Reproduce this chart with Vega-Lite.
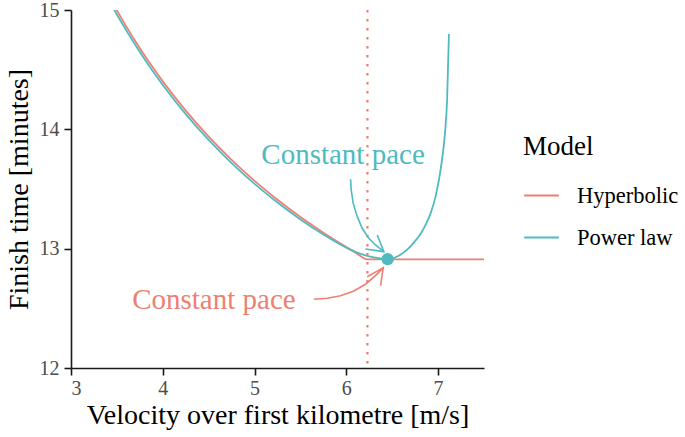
{
  "$schema": "https://vega.github.io/schema/vega-lite/v6.json",
  "width": 413,
  "height": 358,
  "autosize": {"type": "none"},
  "padding": {"left": 71, "top": 10, "right": 201, "bottom": 69},
  "background": "white",
  "config": {
    "font": "Liberation Serif, DejaVu Serif, serif",
    "view": {"stroke": null},
    "axis": {
      "grid": false,
      "domainColor": "#1a1a1a",
      "domainWidth": 1.6,
      "tickColor": "#1a1a1a",
      "tickWidth": 1.6,
      "tickSize": 7,
      "labelColor": "#4d4d4d",
      "labelFont": "Liberation Serif, DejaVu Serif, serif",
      "labelFontSize": 20,
      "titleFont": "Liberation Serif, DejaVu Serif, serif",
      "titleFontSize": 28,
      "titleFontWeight": "normal",
      "titleColor": "#000000"
    },
    "legend": {
      "titleFont": "Liberation Serif, DejaVu Serif, serif",
      "titleFontSize": 27,
      "titleFontWeight": "normal",
      "titleColor": "#000000",
      "labelFont": "Liberation Serif, DejaVu Serif, serif",
      "labelFontSize": 22.5,
      "labelColor": "#000000"
    }
  },
  "datasets": {
    "curves": [
      {"model": "Hyperbolic", "v": 3.4, "t": 15.137},
      {"model": "Hyperbolic", "v": 3.5, "t": 14.997},
      {"model": "Hyperbolic", "v": 3.6, "t": 14.865},
      {"model": "Hyperbolic", "v": 3.75, "t": 14.68},
      {"model": "Hyperbolic", "v": 3.9, "t": 14.509},
      {"model": "Hyperbolic", "v": 4.0, "t": 14.402},
      {"model": "Hyperbolic", "v": 4.25, "t": 14.157},
      {"model": "Hyperbolic", "v": 4.5, "t": 13.939},
      {"model": "Hyperbolic", "v": 4.75, "t": 13.744},
      {"model": "Hyperbolic", "v": 5.0, "t": 13.568},
      {"model": "Hyperbolic", "v": 5.25, "t": 13.41},
      {"model": "Hyperbolic", "v": 5.5, "t": 13.265},
      {"model": "Hyperbolic", "v": 5.75, "t": 13.134},
      {"model": "Hyperbolic", "v": 6.0, "t": 13.013},
      {"model": "Hyperbolic", "v": 6.1, "t": 12.967},
      {"model": "Hyperbolic", "v": 6.23, "t": 12.91},
      {"model": "Hyperbolic", "v": 7.5, "t": 12.91},
      {"model": "Power law", "v": 3.4, "t": 15.1},
      {"model": "Power law", "v": 3.5, "t": 14.962},
      {"model": "Power law", "v": 3.6, "t": 14.832},
      {"model": "Power law", "v": 3.75, "t": 14.648},
      {"model": "Power law", "v": 3.9, "t": 14.478},
      {"model": "Power law", "v": 4.0, "t": 14.372},
      {"model": "Power law", "v": 4.25, "t": 14.128},
      {"model": "Power law", "v": 4.5, "t": 13.911},
      {"model": "Power law", "v": 4.75, "t": 13.717},
      {"model": "Power law", "v": 5.0, "t": 13.543},
      {"model": "Power law", "v": 5.25, "t": 13.387},
      {"model": "Power law", "v": 5.5, "t": 13.245},
      {"model": "Power law", "v": 5.75, "t": 13.119},
      {"model": "Power law", "v": 6.0, "t": 13.009},
      {"model": "Power law", "v": 6.1, "t": 12.973},
      {"model": "Power law", "v": 6.2, "t": 12.946},
      {"model": "Power law", "v": 6.3, "t": 12.927},
      {"model": "Power law", "v": 6.4, "t": 12.915},
      {"model": "Power law", "v": 6.45, "t": 12.912},
      {"model": "Power law", "v": 6.5, "t": 12.918},
      {"model": "Power law", "v": 6.58, "t": 12.945},
      {"model": "Power law", "v": 6.66, "t": 12.99},
      {"model": "Power law", "v": 6.74, "t": 13.055},
      {"model": "Power law", "v": 6.81, "t": 13.125},
      {"model": "Power law", "v": 6.87, "t": 13.21},
      {"model": "Power law", "v": 6.92, "t": 13.3},
      {"model": "Power law", "v": 6.97, "t": 13.43},
      {"model": "Power law", "v": 7.01, "t": 13.58},
      {"model": "Power law", "v": 7.045, "t": 13.76},
      {"model": "Power law", "v": 7.075, "t": 13.97},
      {"model": "Power law", "v": 7.098, "t": 14.25},
      {"model": "Power law", "v": 7.118, "t": 14.8}
    ],
    "arrows": [
      {"seg": "ts", "i": 1, "x": 6.046, "y": 13.582},
      {"seg": "ts", "i": 2, "x": 6.053, "y": 13.492},
      {"seg": "ts", "i": 3, "x": 6.075, "y": 13.381},
      {"seg": "ts", "i": 4, "x": 6.119, "y": 13.268},
      {"seg": "ts", "i": 5, "x": 6.173, "y": 13.171},
      {"seg": "ts", "i": 6, "x": 6.245, "y": 13.087},
      {"seg": "ts", "i": 7, "x": 6.318, "y": 13.031},
      {"seg": "ts", "i": 8, "x": 6.409, "y": 12.975},
      {"seg": "th", "i": 1, "x": 6.337, "y": 13.115},
      {"seg": "th", "i": 2, "x": 6.409, "y": 12.975},
      {"seg": "th", "i": 3, "x": 6.209, "y": 12.997}
    ],
    "arrowsRed": [
      {"seg": "rs", "i": 1, "x": 5.646, "y": 12.576},
      {"seg": "rs", "i": 2, "x": 5.792, "y": 12.584},
      {"seg": "rs", "i": 3, "x": 5.937, "y": 12.606},
      {"seg": "rs", "i": 4, "x": 6.082, "y": 12.645},
      {"seg": "rs", "i": 5, "x": 6.209, "y": 12.702},
      {"seg": "rs", "i": 6, "x": 6.318, "y": 12.774},
      {"seg": "rs", "i": 7, "x": 6.402, "y": 12.841},
      {"seg": "rh", "i": 1, "x": 6.228, "y": 12.765},
      {"seg": "rh", "i": 2, "x": 6.402, "y": 12.841},
      {"seg": "rh", "i": 3, "x": 6.373, "y": 12.69}
    ]
  },
  "layer": [
    {
      "data": {"values": [{"v": 6.23}]},
      "mark": {"type": "rule", "color": "#EE7F72", "strokeWidth": 2.2, "strokeDash": [2.5, 6.5]},
      "encoding": {"x": {"field": "v", "type": "quantitative"}}
    },
    {
      "data": {"name": "curves"},
      "mark": {"type": "line", "strokeWidth": 1.8, "clip": true, "interpolate": "monotone"},
      "encoding": {
        "x": {
          "field": "v", "type": "quantitative",
          "scale": {"domain": [3, 7.5], "nice": false, "zero": false},
          "axis": {"values": [3, 4, 5, 6, 7], "format": "d", "title": "Velocity over first kilometre [m/s]", "labelPadding": 3, "titlePadding": 3}
        },
        "y": {
          "field": "t", "type": "quantitative",
          "scale": {"domain": [12, 15], "nice": false, "zero": false},
          "axis": {"values": [12, 13, 14, 15], "format": "d", "title": "Finish time [minutes]", "labelPadding": 5, "titlePadding": 6}
        },
        "color": {
          "field": "model", "type": "nominal",
          "scale": {"domain": ["Hyperbolic", "Power law"], "range": ["#EE7F72", "#4FBAC0"]},
          "legend": {
            "title": "Model",
            "orient": "none",
            "legendX": 452,
            "legendY": 124,
            "symbolType": "stroke",
            "symbolSize": 1200,
            "symbolStrokeWidth": 2,
            "labelOffset": 17,
            "rowPadding": 12,
            "titlePadding": 16
          }
        }
      }
    },
    {
      "data": {"values": [{"v": 6.45, "t": 12.912}]},
      "mark": {"type": "point", "filled": true, "opacity": 1, "color": "#4FBAC0", "size": 150},
      "encoding": {
        "x": {"field": "v", "type": "quantitative"},
        "y": {"field": "t", "type": "quantitative"}
      }
    },
    {
      "data": {"name": "arrows"},
      "mark": {"type": "line", "color": "#4FBAC0", "strokeWidth": 1.6},
      "encoding": {
        "x": {"field": "x", "type": "quantitative"},
        "y": {"field": "y", "type": "quantitative"},
        "detail": {"field": "seg"},
        "order": {"field": "i"}
      }
    },
    {
      "data": {"name": "arrowsRed"},
      "mark": {"type": "line", "color": "#EE7F72", "strokeWidth": 1.6},
      "encoding": {
        "x": {"field": "x", "type": "quantitative"},
        "y": {"field": "y", "type": "quantitative"},
        "detail": {"field": "seg"},
        "order": {"field": "i"}
      }
    },
    {
      "data": {"values": [{"x": 5.964, "y": 13.71, "label": "Constant pace"}]},
      "mark": {"type": "text", "color": "#4FBAC0", "fontSize": 29, "align": "center", "baseline": "alphabetic", "font": "Liberation Serif, DejaVu Serif, serif"},
      "encoding": {
        "x": {"field": "x", "type": "quantitative"},
        "y": {"field": "y", "type": "quantitative"},
        "text": {"field": "label"}
      }
    },
    {
      "data": {"values": [{"x": 4.557, "y": 12.492, "label": "Constant pace"}]},
      "mark": {"type": "text", "color": "#EE7F72", "fontSize": 29, "align": "center", "baseline": "alphabetic", "font": "Liberation Serif, DejaVu Serif, serif"},
      "encoding": {
        "x": {"field": "x", "type": "quantitative"},
        "y": {"field": "y", "type": "quantitative"},
        "text": {"field": "label"}
      }
    }
  ]
}
